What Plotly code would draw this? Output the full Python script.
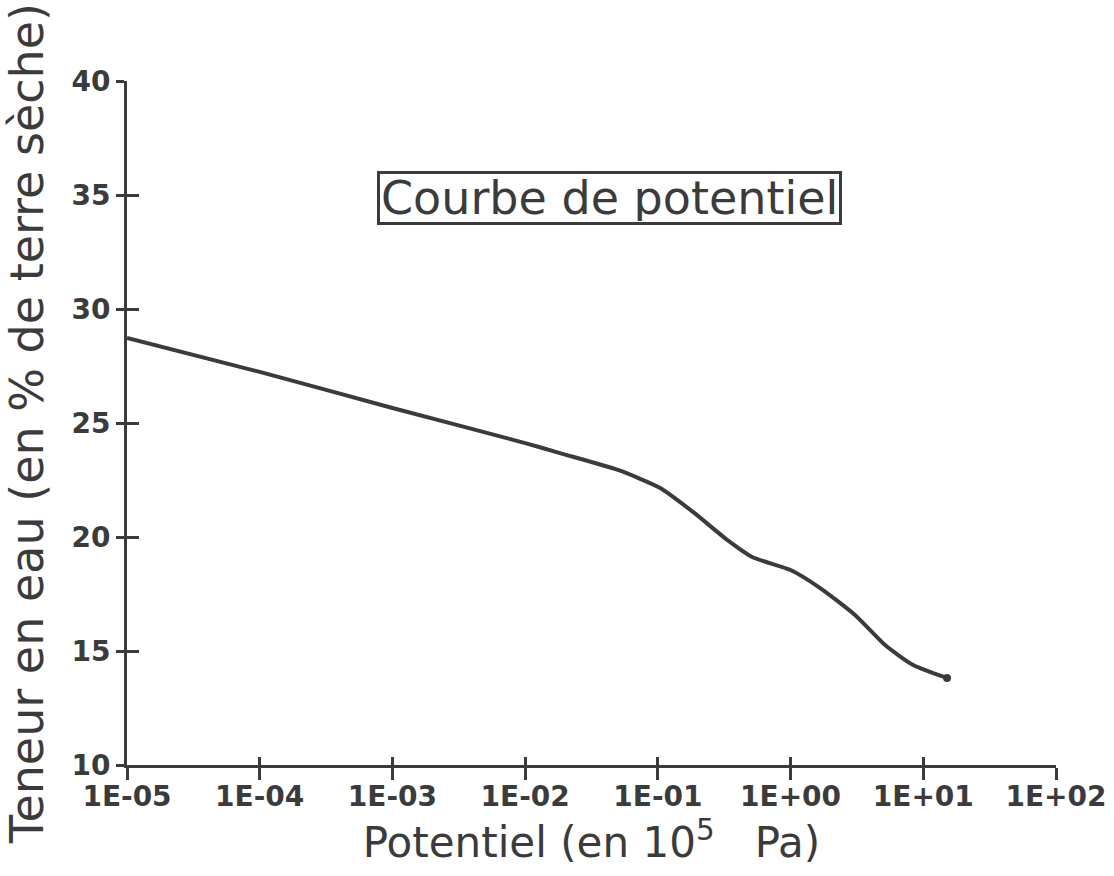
import plotly.graph_objects as go

# Data
potentiel = [1e-5, 1e-4, 1e-3, 1e-2, 0.0183, 0.050, 0.104, 0.184, 0.333, 0.513,
             1.0, 1.67, 3.06, 5.15, 8.38, 15.1]
teneur = [28.73, 27.24, 25.66, 24.12, 23.68, 22.94, 22.15, 21.10, 19.87, 19.12,
          18.55, 17.76, 16.58, 15.26, 14.39, 13.82]

x_tickvals = [1e-5, 1e-4, 1e-3, 1e-2, 1e-1, 1e0, 1e1, 1e2]
x_ticktext = ["1E-05", "1E-04", "1E-03", "1E-02", "1E-01", "1E+00", "1E+01", "1E+02"]
y_tickvals = [10, 15, 20, 25, 30, 35, 40]

INK = "#3b3b3b"
FONT = "DejaVu Sans"
NB = "\u00a0"

fig = go.Figure()
fig.add_trace(go.Scatter(
    x=potentiel, y=teneur, mode="lines",
    line=dict(color=INK, width=4, shape="spline", smoothing=0.6),
    showlegend=False, hoverinfo="x+y",
))
# end point of the curve (drawn on the overlay axes)
fig.add_trace(go.Scatter(
    x=[potentiel[-1]], y=[teneur[-1]], mode="markers",
    marker=dict(color=INK, size=8),
    xaxis="x2", yaxis="y2", showlegend=False, hoverinfo="skip",
))

xr = [-5, 2]
yr = [10, 40]
tickfont = dict(family=FONT, size=28, color=INK, weight="bold")

fig.update_layout(
    width=1114, height=876,
    paper_bgcolor="white", plot_bgcolor="white",
    margin=dict(l=127, r=58, t=81, b=111),
    font=dict(family=FONT, color=INK),
    xaxis=dict(
        type="log", range=xr, tickvals=x_tickvals, ticktext=x_ticktext,
        showgrid=False, zeroline=False, showline=True, linecolor=INK, linewidth=3,
        ticks="outside", ticklen=12, tickwidth=3, tickcolor=INK,
        tickfont=tickfont, ticklabelstandoff=-8, automargin=False,
        title=dict(text="Potentiel (en 10<sup>5</sup>" + NB * 3 + "Pa)",
                   font=dict(family=FONT, size=42, color=INK), standoff=8),
    ),
    xaxis2=dict(
        type="log", range=xr, tickvals=x_tickvals, overlaying="x", anchor="y",
        showgrid=False, zeroline=False, showline=False, showticklabels=False,
        ticks="inside", ticklen=8, tickwidth=3, tickcolor=INK, automargin=False,
    ),
    yaxis=dict(
        range=yr, tickvals=y_tickvals,
        showgrid=False, zeroline=False, showline=True, linecolor=INK, linewidth=3,
        ticks="outside", ticklen=8, tickwidth=3, tickcolor=INK,
        tickfont=tickfont, automargin=False,
        title=dict(text="Teneur en eau (en % de terre sèche)",
                   font=dict(family=FONT, size=46, color=INK), standoff=14),
    ),
    yaxis2=dict(
        range=yr, tickvals=y_tickvals, overlaying="y", anchor="x",
        showgrid=False, zeroline=False, showline=False, showticklabels=False,
        ticks="inside", ticklen=12, tickwidth=3, tickcolor=INK, automargin=False,
    ),
    annotations=[dict(
        text="Courbe de potentiel", xref="paper", yref="paper",
        x=0.519, y=0.829, xanchor="center", yanchor="middle", showarrow=False,
        font=dict(family=FONT, size=46, color=INK), height=46,
        bordercolor=INK, borderwidth=3, borderpad=1, bgcolor="white",
    )],
)

fig.write_html("out.html", config={"displayModeBar": False},
               post_script="document.body.style.margin='0';")
